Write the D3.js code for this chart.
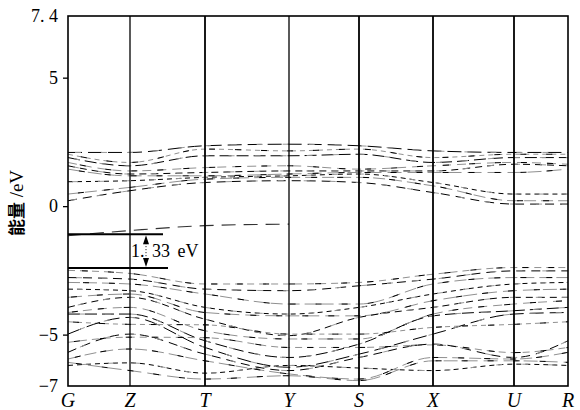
<!DOCTYPE html>
<html>
<head>
<meta charset="utf-8">
<script src="https://cdn.jsdelivr.net/npm/d3@7"></script>
<style>
  body { margin: 0; background: #fff; }
  svg { display: block; }
</style>
</head>
<body>
<svg id="chart" width="580" height="410"></svg>
<script>
// high symmetry points along the k path
const kLabels = ["G", "Z", "T", "Y", "S", "X", "U", "R"];
const kPos = [0, 0.62, 1.37, 2.21, 2.91, 3.65, 4.46, 5.00];

// energies (eV) at each k point
const conductionBands = [
    [0.21, 0.60, 0.92, 0.99, 0.92, 0.53, 0.08, 0.08],
    [0.47, 0.73, 1.05, 1.12, 1.12, 0.79, 0.21, 0.21],
    [0.95, 0.99, 1.12, 1.18, 1.25, 0.92, 0.47, 0.47],
    [1.44, 1.18, 1.18, 1.25, 1.31, 1.31, 1.31, 1.44],
    [1.57, 1.25, 1.31, 1.37, 1.37, 1.37, 1.63, 1.57],
    [1.70, 1.37, 1.50, 1.57, 1.44, 1.57, 1.70, 1.63],
    [1.89, 1.57, 1.96, 1.96, 2.02, 1.70, 1.89, 1.89],
    [2.02, 1.70, 2.22, 2.15, 2.22, 1.89, 2.02, 2.02],
    [2.09, 2.09, 2.35, 2.41, 2.35, 2.15, 2.09, 2.09]
];
const valenceBands = [
    [-2.50, -2.62, -3.03, -3.03, -2.97, -2.65, -2.39, -2.39],
    [-2.78, -2.84, -3.23, -3.29, -3.10, -2.84, -2.52, -2.52],
    [-2.97, -3.03, -3.42, -3.81, -3.81, -3.03, -2.78, -2.78],
    [-3.23, -3.29, -3.94, -4.20, -3.94, -3.42, -3.03, -2.97],
    [-3.55, -3.42, -4.14, -4.27, -4.27, -3.68, -3.29, -3.23],
    [-3.94, -3.55, -4.40, -5.04, -4.33, -3.94, -3.55, -3.55],
    [-4.14, -3.94, -4.85, -5.17, -5.17, -4.20, -3.81, -3.68],
    [-4.20, -4.20, -5.24, -5.89, -5.37, -4.27, -4.07, -3.94],
    [-4.50, -4.60, -4.62, -4.98, -4.98, -4.72, -4.60, -4.50],
    [-4.98, -4.33, -5.50, -6.27, -5.76, -4.98, -4.20, -4.14],
    [-5.30, -5.10, -5.12, -5.50, -5.50, -5.40, -5.70, -5.50],
    [-5.69, -4.98, -5.76, -6.40, -5.89, -5.37, -5.89, -5.24],
    [-5.95, -5.56, -6.02, -6.53, -6.73, -5.89, -5.95, -5.69],
    [-6.20, -6.10, -6.50, -6.20, -6.30, -6.40, -6.15, -6.20],
    [-6.08, -6.40, -6.73, -6.60, -6.79, -6.02, -6.02, -6.08]
];
// isolated band inside the gap (only G..Y)
const gapBand = [-1.15, -0.95, -0.76, -0.70, null, null, null, null];
const gapEdges = [-1.09, -2.41];
const gapText = "1. 33 eV";

const yTicks = [7.4, 5, 0, -5, -7];
const yTickLabels = ["7. 4", "5", "0", "\u22125", "\u22127"];
const yTitle = ["能量", " /eV"];

const serif = "Liberation Serif, DejaVu Serif, serif";
const svg = d3.select("#chart");
const mLeft = 68, mRight = 568, mTop = 16, mBottom = 386;

const x = d3.scaleLinear().domain([0, kPos[kPos.length - 1]]).range([mLeft, mRight]);
const y = d3.scaleLinear().domain([-7, 7.4]).range([mBottom, mTop]);

const line = d3.line()
    .defined(d => d[1] !== null)
    .x(d => x(d[0]))
    .y(d => y(d[1]))
    .curve(d3.curveMonotoneX);

const plot = svg.append("g");

const dashes = ["9,6", "12,5", "5,4", "14,6", "7,5"];
const allBands = conductionBands.concat(valenceBands);

// each band: black dashes with grey dashes filling part of the gaps
allBands.forEach((b, i) => {
    const pts = b.map((e, j) => [kPos[j], e]);
    const dash = dashes[i % dashes.length];
    plot.append("path")
        .attr("d", line(pts))
        .attr("fill", "none")
        .attr("stroke", i % 2 ? "#909090" : "#000")
        .attr("stroke-width", 1)
        .attr("stroke-dasharray", dash);
    plot.append("path")
        .attr("d", line(pts))
        .attr("fill", "none")
        .attr("stroke", i % 2 ? "#000" : "#999")
        .attr("stroke-width", 1)
        .attr("stroke-dasharray", "6,20")
        .attr("stroke-dashoffset", -(i * 7 % 13) - 3);
});

plot.append("path")
    .attr("d", line(gapBand.map((e, j) => [kPos[j], e])))
    .attr("fill", "none")
    .attr("stroke", "#333")
    .attr("stroke-width", 1.1)
    .attr("stroke-dasharray", "14,8");

// vertical lines at the high symmetry points
svg.append("g").selectAll("line")
    .data(kPos.slice(1, -1))
    .join("line")
    .attr("x1", d => x(d)).attr("x2", d => x(d))
    .attr("y1", mTop).attr("y2", mBottom)
    .attr("stroke", "#000")
    .attr("stroke-width", (d, i) => i === 0 || i === 2 ? 1.3 : 1.8);

// frame
svg.append("rect")
    .attr("x", mLeft).attr("y", mTop)
    .attr("width", mRight - mLeft).attr("height", mBottom - mTop)
    .attr("fill", "none")
    .attr("stroke", "#000")
    .attr("stroke-width", 1.6);

// y axis
const yAxis = d3.axisLeft(y)
    .tickValues(yTicks)
    .tickFormat((d, i) => yTickLabels[i])
    .tickSize(5)
    .tickPadding(6);
const ya = svg.append("g").attr("transform", `translate(${mLeft},0)`).call(yAxis);
ya.attr("font-family", serif).attr("font-size", 18);
ya.select(".domain").remove();
ya.selectAll(".tick line").attr("stroke-width", 1.3)
    .filter(d => d === 7.4 || d === -7).remove();
ya.selectAll(".tick text").attr("fill", "#000").attr("x", -10);

// y title
svg.append("text")
    .attr("transform", `translate(23,${(mTop + mBottom) / 2 + 2}) rotate(-90)`)
    .attr("text-anchor", "middle")
    .selectAll("tspan")
    .data(yTitle)
    .join("tspan")
    .attr("font-family", (d, i) => i === 0 ? "Noto Sans CJK SC" : serif)
    .attr("font-weight", (d, i) => i === 0 ? "bold" : "normal")
    .attr("font-size", (d, i) => i === 0 ? 17 : 19)
    .text(d => d);

// k labels
svg.append("g").selectAll("text")
    .data(kLabels)
    .join("text")
    .attr("x", (d, i) => x(kPos[i]))
    .attr("y", 407)
    .attr("text-anchor", "middle")
    .attr("font-family", serif)
    .attr("font-style", "italic")
    .attr("font-size", 20)
    .text(d => d);

// band gap marker
const g = svg.append("g");
g.append("line")
    .attr("x1", x(0)).attr("x2", x(0.95))
    .attr("y1", y(gapEdges[0])).attr("y2", y(gapEdges[0]))
    .attr("stroke", "#000").attr("stroke-width", 2);
g.append("line")
    .attr("x1", x(0)).attr("x2", x(1.0))
    .attr("y1", y(gapEdges[1])).attr("y2", y(gapEdges[1]))
    .attr("stroke", "#000").attr("stroke-width", 2);
const ax = x(0.78);
const y0 = y(gapEdges[0]), y1 = y(gapEdges[1]);
g.append("line")
    .attr("x1", ax).attr("x2", ax)
    .attr("y1", y0 + 6).attr("y2", y1 - 6)
    .attr("stroke", "#000").attr("stroke-width", 1)
    .attr("stroke-dasharray", "1,2");
g.append("path")
    .attr("d", `M${ax},${y0 + 1}L${ax - 3},${y0 + 10}L${ax + 3},${y0 + 10}Z`)
    .attr("fill", "#000");
g.append("path")
    .attr("d", `M${ax},${y1 - 1}L${ax - 3},${y1 - 10}L${ax + 3},${y1 - 10}Z`)
    .attr("fill", "#000");
g.append("text")
    .attr("x", 131)
    .attr("y", (y0 + y1) / 2 + 6)
    .attr("font-family", serif)
    .attr("font-size", 18)
    .attr("word-spacing", 3)
    .text(gapText);
</script>
</body>
</html>
